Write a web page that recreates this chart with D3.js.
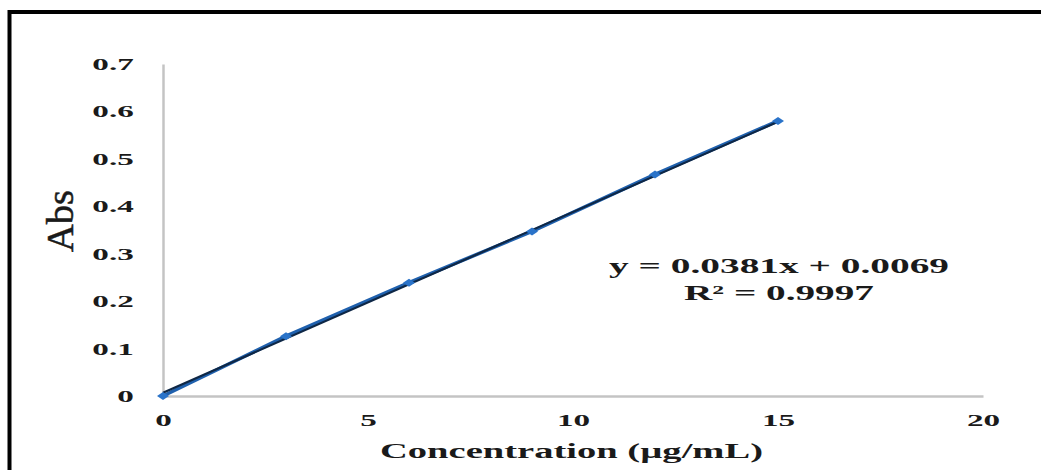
<!DOCTYPE html>
<html>
<head>
<meta charset="utf-8">
<script src="https://cdn.jsdelivr.net/npm/d3@7"></script>
<style>
  body { margin: 0; background: #fff; }
  svg { display: block; }
</style>
</head>
<body>
<div id="chart"></div>
<script>
// calibration data
const concentration = [0, 3, 6, 9, 12, 15];
const absorbance = [0, 0.126, 0.239, 0.347, 0.467, 0.580];
const xTicks = [0, 5, 10, 15, 20];
const yTicks = [0, 0.1, 0.2, 0.3, 0.4, 0.5, 0.6, 0.7];
const slope = 0.0381, intercept = 0.0069;
const equationLines = ["y = 0.0381x + 0.0069", "R\u00b2 = 0.9997"];

const W = 1041, H = 470;
const serif = "'Liberation Serif', 'Times New Roman', serif";

const svg = d3.select("#chart").append("svg")
    .attr("width", W)
    .attr("height", H);

svg.append("rect").attr("width", W).attr("height", H).attr("fill", "#fff");

// outer frame (only top and left edges are visible)
svg.append("path")
    .attr("d", `M9.5,${H + 5} L9.5,12 L${W + 5},12`)
    .attr("fill", "none")
    .attr("stroke", "#000")
    .attr("stroke-width", 4);

const x = d3.scaleLinear().domain([0, 20]).range([163, 983]);
const y = d3.scaleLinear().domain([0, 0.7]).range([396, 64]);

const xAxis = svg.append("g")
    .attr("transform", `translate(0,${y(0)})`)
    .call(d3.axisBottom(x).tickValues(xTicks).tickSize(0).tickPadding(18).tickFormat(d3.format("d")));

const yAxis = svg.append("g")
    .attr("transform", `translate(${x(0)},0)`)
    .call(d3.axisLeft(y).tickValues(yTicks).tickSize(0).tickPadding(15).tickFormat(d => d === 0 ? "0" : d3.format(".1f")(d)));

[xAxis, yAxis].forEach(g => {
    g.select(".domain").attr("stroke", "#c4c4c4").attr("stroke-width", 2.5);
    g.selectAll("text")
        .attr("font-family", serif)
        .attr("font-weight", "bold")
        .attr("font-size", 17)
        .attr("fill", "#1a1a1a")
        .attr("transform", "scale(1.95,1)");
});

// data series line + markers
const line = d3.line().x((d, i) => x(concentration[i])).y(d => y(d));

svg.append("path")
    .datum(absorbance)
    .attr("fill", "none")
    .attr("stroke", "#1f60ad")
    .attr("stroke-width", 3.6)
    .attr("d", line);

// linear trendline
svg.append("path")
    .datum([0, 15])
    .attr("fill", "none")
    .attr("stroke", "#0e2746")
    .attr("stroke-width", 2.2)
    .attr("d", d3.line().x(d => x(d)).y(d => y(slope * d + intercept)));

svg.selectAll(".pt")
    .data(absorbance)
    .enter()
    .append("path")
    .attr("class", "pt")
    .attr("transform", (d, i) => `translate(${x(concentration[i])},${y(d)})`)
    .attr("d", "M-6,0 L0,-4 L6,0 L0,4 Z")
    .attr("fill", "#2a73c9");

// equation
const eqX = 779;
[[equationLines[0], 273, 340], [equationLines[1], 300, 190]].forEach(([t, by, len]) => {
    svg.append("text")
        .attr("x", eqX - len / 2)
        .attr("y", by)
        .attr("textLength", len)
        .attr("lengthAdjust", "spacingAndGlyphs")
        .attr("font-family", serif)
        .attr("font-weight", "bold")
        .attr("font-size", 21)
        .attr("fill", "#1a1a1a")
        .text(t);
});

// axis titles
svg.append("text")
    .attr("x", 380)
    .attr("y", 458)
    .attr("textLength", 383)
    .attr("lengthAdjust", "spacingAndGlyphs")
    .attr("font-family", serif)
    .attr("font-weight", "bold")
    .attr("font-size", 22)
    .attr("fill", "#1a1a1a")
    .text("Concentration  (\u00b5g/mL)");

svg.append("text")
    .attr("transform", "translate(73,221) rotate(-90) scale(1.75,1.75)")
    .attr("text-anchor", "middle")
    .attr("font-family", serif)
    .attr("font-size", 22)
    .attr("stroke", "#1a1a1a")
    .attr("stroke-width", 0.3)
    .attr("fill", "#1a1a1a")
    .text("Abs");
</script>
</body>
</html>
